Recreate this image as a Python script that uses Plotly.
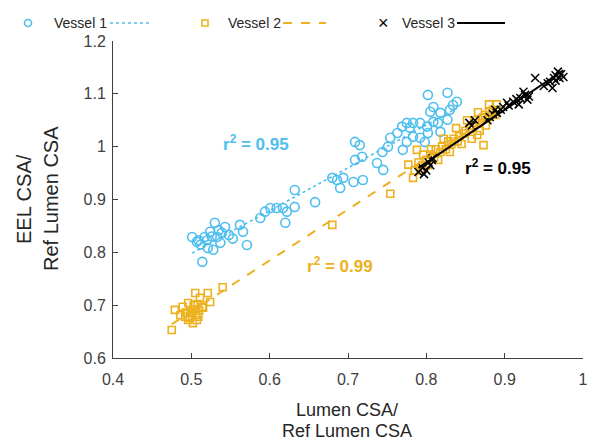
import numpy as np
import plotly.graph_objects as go

# ---------------- data ----------------
v1_x = [0.501, 0.509, 0.517, 0.524, 0.530, 0.533, 0.539, 0.543, 0.537, 0.514, 0.520, 0.528, 0.521, 0.507,
        0.562, 0.566, 0.571, 0.588, 0.594, 0.601, 0.609, 0.617, 0.622, 0.620, 0.632, 0.632, 0.658,
        0.680, 0.686, 0.694, 0.690, 0.707, 0.719, 0.709, 0.718, 0.709, 0.715, 0.737, 0.745, 0.744,
        0.751, 0.754, 0.763, 0.769, 0.775, 0.779, 0.783, 0.792, 0.801, 0.809, 0.770, 0.775, 0.783,
        0.792, 0.802, 0.798, 0.815, 0.818, 0.805, 0.809, 0.802, 0.827, 0.830, 0.834, 0.839, 0.827, 0.818,
        0.512, 0.526, 0.535, 0.548, 0.553]
v1_y = [0.829, 0.823, 0.829, 0.839, 0.856, 0.829, 0.837, 0.848, 0.818, 0.782, 0.823, 0.805, 0.808, 0.820,
        0.852, 0.839, 0.814, 0.865, 0.877, 0.884, 0.884, 0.884, 0.877, 0.856, 0.886, 0.918, 0.895,
        0.941, 0.937, 0.941, 0.922, 0.933, 0.937, 0.975, 0.981, 1.009, 1.003, 0.969, 0.956, 0.990,
        1.000, 1.017, 1.026, 1.038, 1.045, 1.036, 1.045, 1.045, 1.038, 1.047, 0.994, 1.009, 1.019,
        1.017, 1.026, 1.009, 1.045, 1.064, 1.066, 1.075, 1.098, 1.102, 1.070, 1.079, 1.085, 1.051, 1.028,
        0.815, 0.830, 0.842, 0.833, 0.826]

v2_x = [0.475, 0.479, 0.486, 0.489, 0.496, 0.501, 0.505, 0.511, 0.514, 0.521, 0.524, 0.515, 0.540,
        0.507, 0.496, 0.492, 0.502, 0.509, 0.499, 0.504, 0.506, 0.510, 0.498, 0.493, 0.503, 0.508,
        0.680, 0.754, 0.777, 0.783, 0.788,
        0.785, 0.790, 0.795, 0.800, 0.805, 0.810, 0.812, 0.818, 0.820, 0.825, 0.828, 0.832, 0.835,
        0.840, 0.842, 0.848, 0.850, 0.855, 0.860, 0.862, 0.868, 0.872, 0.875, 0.880, 0.885, 0.888,
        0.792, 0.802, 0.815, 0.830, 0.845, 0.858, 0.868, 0.876, 0.796, 0.806, 0.822, 0.838, 0.852,
        0.866, 0.880, 0.890, 0.879, 0.873, 0.865]
v2_y = [0.653, 0.691, 0.681, 0.697, 0.704, 0.685, 0.723, 0.714, 0.697, 0.723, 0.706, 0.695, 0.734,
        0.672, 0.672, 0.678, 0.666, 0.678, 0.688, 0.692, 0.682, 0.690, 0.676, 0.686, 0.700, 0.702,
        0.852, 0.911, 0.966, 0.941, 0.994,
        0.955, 0.970, 0.965, 0.975, 0.985, 0.980, 0.995, 0.990, 1.000, 0.995, 1.010, 1.005, 1.015,
        1.010, 1.020, 1.025, 1.030, 1.035, 1.040, 1.050, 1.045, 1.055, 1.060, 1.065, 1.070, 1.060,
        0.955, 0.965, 0.975, 0.990, 1.005, 1.015, 1.030, 1.040, 0.985, 0.995, 1.015, 1.035, 1.050,
        1.065, 1.080, 1.080, 1.056, 1.003, 1.022]

v3_x = [0.790, 0.795, 0.800, 0.797, 0.805, 0.808, 0.803, 0.807, 0.855, 0.858, 0.862, 0.878, 0.881,
        0.885, 0.890, 0.888, 0.895, 0.898, 0.903, 0.905, 0.911, 0.915, 0.918, 0.920, 0.924, 0.929,
        0.926, 0.931, 0.939, 0.950, 0.955, 0.958, 0.961, 0.963, 0.965, 0.968, 0.970, 0.972, 0.975, 0.965]
v3_y = [0.952, 0.960, 0.955, 0.948, 0.965, 0.978, 0.970, 0.975, 1.045, 1.040, 1.050, 1.050, 1.056,
        1.062, 1.064, 1.070, 1.070, 1.075, 1.083, 1.078, 1.085, 1.090, 1.080, 1.092, 1.104, 1.089,
        1.098, 1.095, 1.130, 1.115, 1.120, 1.123, 1.111, 1.130, 1.135, 1.142, 1.130, 1.137, 1.132, 1.125]

series_names = ["Vessel 1", "Vessel 2", "Vessel 3"]
r2_labels = ["0.95", "0.99", "0.95"]
r2_pos_x = [0.583, 0.690, 0.892]
r2_pos_y = [1.007, 0.776, 0.962]

x_ticks = [0.4, 0.5, 0.6, 0.7, 0.8, 0.9, 1.0]
x_ticktext = ["0.4", "0.5", "0.6", "0.7", "0.8", "0.9", "1"]
y_ticks = [0.6, 0.7, 0.8, 0.9, 1.0, 1.1, 1.2]
y_ticktext = ["0.6", "0.7", "0.8", "0.9", "1", "1.1", "1.2"]
x_title_lines = ["Lumen CSA/", "Ref Lumen CSA"]
y_title_lines = ["EEL CSA/", "Ref Lumen CSA"]

# ---------------- style ----------------
BLUE = "#4DBEEE"
GOLD = "#EDB120"
BLACK = "#000000"
FONT = "Liberation Sans, Arial, sans-serif"

fig = go.Figure()

def fit_line(xs, ys):
    xs = np.asarray(xs); ys = np.asarray(ys)
    m, b = np.polyfit(xs, ys, 1)
    xl = np.array([xs.min(), xs.max()])
    return xl, m * xl + b

fig.add_trace(go.Scatter(x=v1_x, y=v1_y, mode="markers", name=series_names[0],
                         marker=dict(symbol="circle-open", size=9, color=BLUE, line=dict(width=1.6, color=BLUE))))
fig.add_trace(go.Scatter(x=v2_x, y=v2_y, mode="markers", name=series_names[1],
                         marker=dict(symbol="square-open", size=7, color=GOLD, line=dict(width=1.6, color=GOLD))))
fig.add_trace(go.Scatter(x=v3_x, y=v3_y, mode="markers", name=series_names[2],
                         marker=dict(symbol="x-thin-open", size=8, color=BLACK, line=dict(width=1.5, color=BLACK))))

for xs, ys, col, dash, w in [(v1_x, v1_y, BLUE, "dot", 1.6), (v2_x, v2_y, GOLD, "dash", 2),
                              (v3_x, v3_y, BLACK, "solid", 2)]:
    lx, ly = fit_line(xs, ys)
    fig.add_trace(go.Scatter(x=lx, y=ly, mode="lines", showlegend=False,
                             line=dict(color=col, dash=dash, width=w)))

for lab, ax_, ay_, col in zip(r2_labels, r2_pos_x, r2_pos_y, [BLUE, GOLD, BLACK]):
    fig.add_annotation(x=ax_, y=ay_, xref="x", yref="y", showarrow=False,
                       text=f"<b>r<sup>2</sup> = {lab}</b>",
                       font=dict(family=FONT, size=17, color=col))

# ---------------- manual legend and titles (paper coords) ----------------
X0, X1 = 113, 583
Y0, Y1 = 358, 41
def px(p):
    return (p - X0) / (X1 - X0)
def py(p):
    return (Y0 - p) / (Y0 - Y1)

leg_y = py(23)
fig.add_shape(type="circle", xref="paper", yref="paper", xsizemode="pixel", ysizemode="pixel",
              xanchor=px(28), yanchor=leg_y, x0=-3.5, x1=3.5, y0=-3.5, y1=3.5,
              line=dict(color=BLUE, width=1.6))
fig.add_shape(type="line", xref="paper", yref="paper", x0=px(110), x1=px(150), y0=leg_y, y1=leg_y,
              line=dict(color=BLUE, width=1.6, dash="dot"))
fig.add_shape(type="rect", xref="paper", yref="paper", xsizemode="pixel", ysizemode="pixel",
              xanchor=px(205), yanchor=leg_y, x0=-3, x1=3, y0=-3, y1=3,
              line=dict(color=GOLD, width=1.6))
fig.add_shape(type="line", xref="paper", yref="paper", x0=px(283), x1=px(326), y0=leg_y, y1=leg_y,
              line=dict(color=GOLD, width=2, dash="dash"))
fig.add_annotation(x=px(383), y=leg_y, xref="paper", yref="paper", showarrow=False, text="×",
                   xanchor="center", yanchor="middle",
                   font=dict(family=FONT, size=18, color=BLACK))
fig.add_shape(type="line", xref="paper", yref="paper", x0=px(457), x1=px(505), y0=leg_y, y1=leg_y,
              line=dict(color=BLACK, width=2))
for name, tx in zip(series_names, [52, 226, 400]):
    fig.add_annotation(x=px(tx), y=leg_y, xref="paper", yref="paper", showarrow=False, text=name,
                       xanchor="left", yanchor="middle", font=dict(family=FONT, size=14, color="#262626"))

for line, yy in zip(x_title_lines, [410, 431]):
    fig.add_annotation(x=px(347), y=py(yy), xref="paper", yref="paper", showarrow=False, text=line,
                       xanchor="center", yanchor="middle",
                       font=dict(family=FONT, size=18, color="#262626"))
for line, xx in zip(y_title_lines, [24, 51]):
    fig.add_annotation(x=px(xx), y=py(199), xref="paper", yref="paper", showarrow=False, text=line,
                       xanchor="center", yanchor="middle", textangle=-90,
                       font=dict(family=FONT, size=20, color="#262626"))

fig.update_layout(
    width=600, height=447,
    margin=dict(l=X0, r=600 - X1, t=Y1, b=447 - Y0, autoexpand=False),
    paper_bgcolor="white", plot_bgcolor="white",
    showlegend=False,
    font=dict(family=FONT, color="#404040"),
)
fig.update_xaxes(range=[0.4, 1.0], tickvals=x_ticks, ticktext=x_ticktext, showgrid=False, zeroline=False,
                 showline=True, linecolor="#404040", linewidth=1, ticks="inside", ticklen=5,
                 tickcolor="#404040", tickfont=dict(size=16, color="#404040"), ticklabelstandoff=7)
fig.update_yaxes(range=[0.6, 1.2], tickvals=y_ticks, ticktext=y_ticktext, showgrid=False, zeroline=False,
                 showline=True, linecolor="#404040", linewidth=1, ticks="inside", ticklen=5,
                 tickcolor="#404040", tickfont=dict(size=16, color="#404040"), ticklabelstandoff=3)

fig.write_html("out.html", config={"displayModeBar": False},
               post_script="document.body.style.margin='0';")
